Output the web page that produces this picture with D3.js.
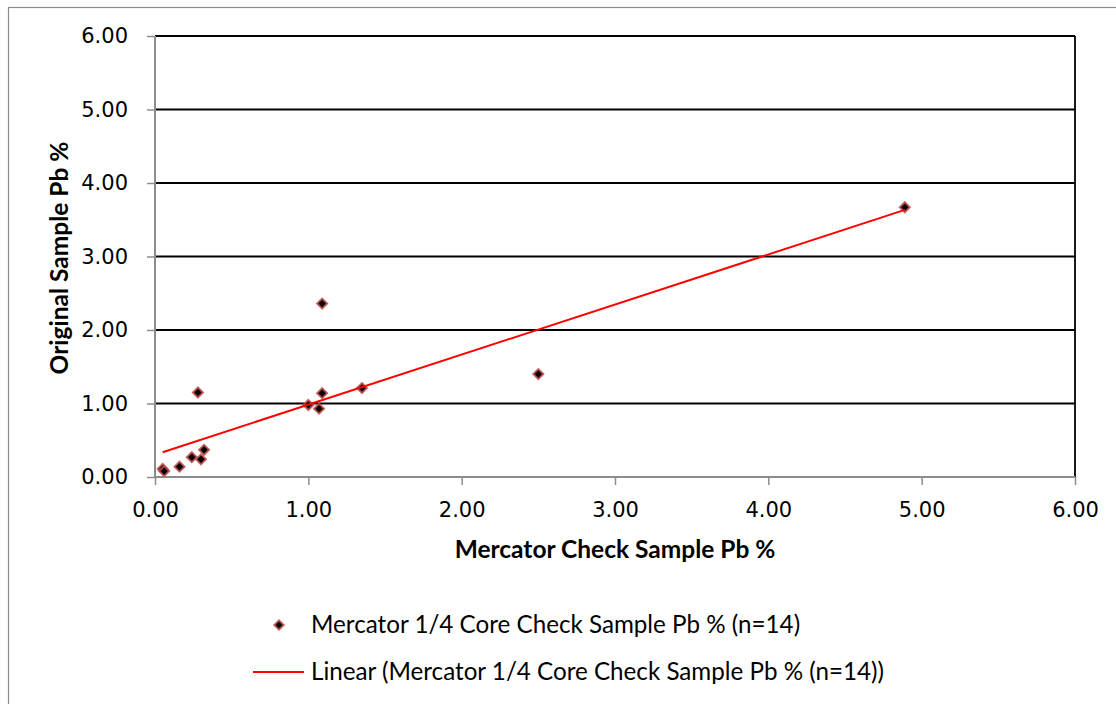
<!DOCTYPE html>
<html>
<head>
<meta charset="utf-8">
<script src="https://cdn.jsdelivr.net/npm/d3@7/dist/d3.min.js"></script>
<style>
  html, body { margin: 0; padding: 0; background: #fff; }
  svg { display: block; }
</style>
</head>
<body>
<svg id="chart" width="1116" height="704"></svg>
<script>
// Pb % check assays: Mercator 1/4 core check vs original sample
const checkPb    = [0.05, 0.06, 0.16, 0.24, 0.30, 0.32, 0.28, 1.00, 1.07, 1.09, 1.09, 1.35, 2.50, 4.89];
const originalPb = [0.11, 0.08, 0.14, 0.27, 0.24, 0.37, 1.15, 0.98, 0.93, 1.14, 2.36, 1.21, 1.40, 3.67];
const xTicks = [0, 1, 2, 3, 4, 5, 6];
const yTicks = [0, 1, 2, 3, 4, 5, 6];
const seriesName = "Mercator 1/4 Core Check Sample Pb % (n=14)";
const trendName = "Linear (Mercator 1/4 Core Check Sample Pb % (n=14))";
const xTitle = "Mercator Check Sample Pb %";
const yTitle = "Original Sample Pb %";

const svg = d3.select("#chart");
const plot = { left: 155, right: 1075, top: 36, bottom: 477 };

const x = d3.scaleLinear().domain([0, 6]).range([plot.left, plot.right]);
const y = d3.scaleLinear().domain([0, 6]).range([plot.bottom, plot.top]);

// outer chart frame
svg.append("rect")
  .attr("x", 8.5).attr("y", 7.5)
  .attr("width", 1130).attr("height", 720)
  .attr("fill", "none").attr("stroke", "#8c8c8c").attr("stroke-width", 1.2);

// horizontal gridlines
svg.append("g")
  .selectAll("line")
  .data(yTicks.filter(d => d > 0))
  .join("line")
  .attr("x1", plot.left).attr("x2", plot.right)
  .attr("y1", d => y(d)).attr("y2", d => y(d))
  .attr("stroke", "#000").attr("stroke-width", 1.8);

// right border of plot area
svg.append("line")
  .attr("x1", plot.right).attr("x2", plot.right)
  .attr("y1", plot.top).attr("y2", plot.bottom)
  .attr("stroke", "#000").attr("stroke-width", 1.8);

const tickFont = "'DejaVu Sans', Verdana, sans-serif";

// y axis
const yAxis = svg.append("g")
  .attr("transform", `translate(${plot.left},0)`)
  .call(d3.axisLeft(y).tickValues(yTicks).tickFormat(d3.format(".2f")).tickSize(8).tickPadding(19));
// x axis
const xAxis = svg.append("g")
  .attr("transform", `translate(0,${plot.bottom})`)
  .call(d3.axisBottom(x).tickValues(xTicks).tickFormat(d3.format(".2f")).tickSize(8).tickPadding(17));

[yAxis, xAxis].forEach(ax => {
  ax.select(".domain").attr("stroke", "#8c8c8c").attr("stroke-width", 2);
  ax.selectAll(".tick line").attr("stroke", "#8c8c8c").attr("stroke-width", 1.5);
  ax.selectAll(".tick text")
    .attr("fill", "#000")
    .style("font-family", tickFont)
    .style("font-size", "21px");
});
yAxis.select(".domain").attr("d", `M0,${plot.top}V${plot.bottom}`);
xAxis.select(".domain").attr("d", `M${plot.left},0H${plot.right}`);

// linear trendline (least squares)
const n = checkPb.length;
const mx = d3.mean(checkPb), my = d3.mean(originalPb);
let sxy = 0, sxx = 0;
for (let i = 0; i < n; i++) {
  sxy += (checkPb[i] - mx) * (originalPb[i] - my);
  sxx += (checkPb[i] - mx) ** 2;
}
const slope = sxy / sxx;
const intercept = my - slope * mx;
const xMin = d3.min(checkPb), xMax = d3.max(checkPb);

// markers
const diamond = d3.symbol().type(d3.symbolSquare).size(50);
svg.append("g")
  .selectAll("path")
  .data(checkPb.map((v, i) => [v, originalPb[i]]))
  .join("path")
  .attr("d", diamond)
  .attr("transform", d => `translate(${x(d[0])},${y(d[1])}) rotate(45)`)
  .attr("fill", "#000")
  .attr("stroke", "#c0504d")
  .attr("stroke-opacity", 0.85)
  .attr("stroke-width", 2);

svg.append("line")
  .attr("x1", x(xMin)).attr("y1", y(intercept + slope * xMin))
  .attr("x2", x(xMax)).attr("y2", y(intercept + slope * xMax))
  .attr("stroke", "#ff0000").attr("stroke-width", 2);

// axis titles
const titleFont = "Lato, 'Open Sans', sans-serif";
svg.append("text")
  .attr("x", (plot.left + plot.right) / 2).attr("y", 558)
  .attr("text-anchor", "middle")
  .style("font-family", titleFont).style("font-weight", "bold").style("font-size", "24.5px")
  .text(xTitle);
svg.append("text")
  .attr("transform", `translate(68,258) rotate(-90)`)
  .attr("text-anchor", "middle")
  .style("font-family", titleFont).style("font-weight", "bold").style("font-size", "24.5px")
  .text(yTitle);

// legend
const legendFont = "Lato, 'Open Sans', sans-serif";
const lg = svg.append("g");
lg.append("path")
  .attr("d", d3.symbol().type(d3.symbolSquare).size(44))
  .attr("transform", "translate(279,625) rotate(45)")
  .attr("fill", "#000").attr("stroke", "#c0504d").attr("stroke-opacity", 0.85).attr("stroke-width", 2);
lg.append("text")
  .attr("x", 311).attr("y", 633)
  .style("font-family", legendFont).style("font-size", "24.2px")
  .text(seriesName);
lg.append("line")
  .attr("x1", 253).attr("x2", 304).attr("y1", 672).attr("y2", 672)
  .attr("stroke", "#ff0000").attr("stroke-width", 2);
lg.append("text")
  .attr("x", 311).attr("y", 680)
  .style("font-family", legendFont).style("font-size", "24.2px")
  .text(trendName);
</script>
</body>
</html>
